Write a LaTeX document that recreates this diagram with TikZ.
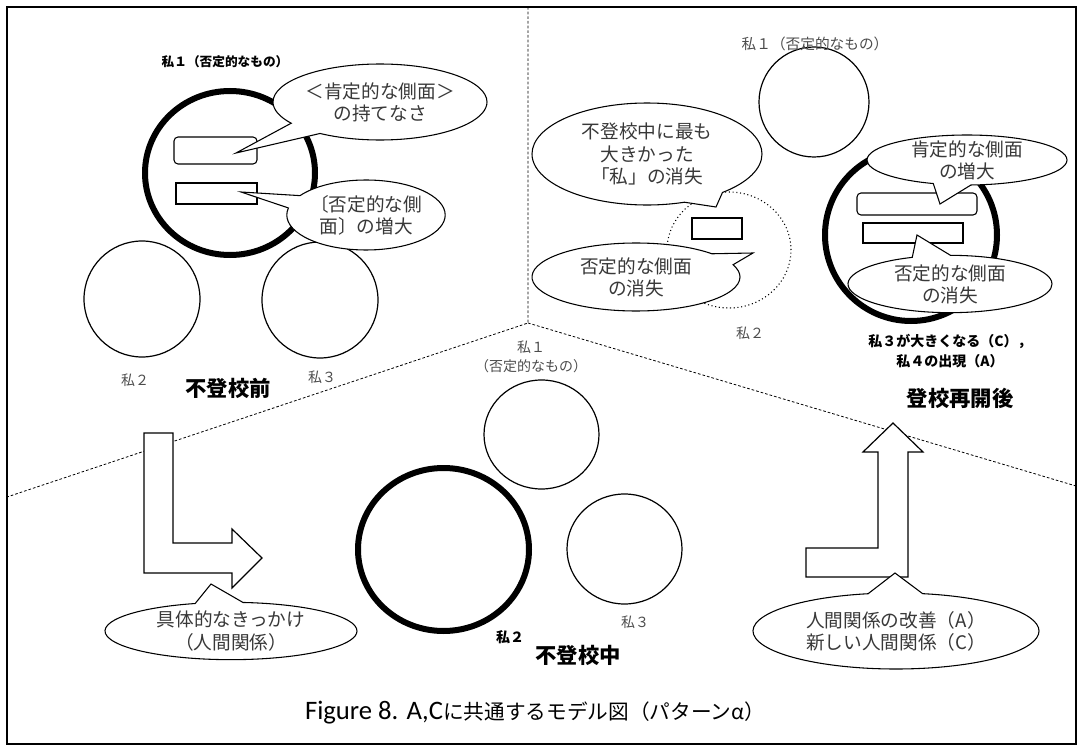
\documentclass[tikz,border=0pt]{standalone}
\usepackage{fontspec}
\setmainfont{Carlito}
\newfontfamily\jp{Noto Sans CJK JP}
\usetikzlibrary{shapes.geometric, shapes.callouts}
\definecolor{labelgray}{gray}{0.3}
\definecolor{bubgray}{gray}{0.22}
\newcommand\bubtext[1]{\smash{\raisebox{-0.4em}{\begin{tabular}{@{}c@{}}#1\end{tabular}}}}

\begin{document}
\begin{tikzpicture}[x=0.75pt, y=-0.75pt,
	thincirc/.style={draw, ellipse, line width=0.9pt, inner sep=0pt},
	thickcirc/.style={draw, ellipse, line width=4.5pt, inner sep=0pt},
	sidebox/.style={draw, rectangle, line width=0.8pt, inner sep=0pt},
	bubble/.style={draw, fill=white, ellipse callout, callout pointer arc=22,
		inner sep=0pt, line width=0.8pt, text=bubgray,
		font=\jp\fontsize{14}{16.5}\selectfont},
	smalllabel/.style={text=labelgray, inner sep=0pt, align=center,
		font=\jp\fontsize{10.5}{14}\selectfont},
	boldlabel/.style={inner sep=0pt, align=center,
		font=\jp\bfseries\fontsize{10.5}{15}\selectfont},
	titlelabel/.style={inner sep=0pt, font=\jp\bfseries\fontsize{16}{19}\selectfont},
	divider/.style={line width=0.6pt, dash pattern=on 2pt off 1.5pt},
	turnarrow/.style={draw, fill=white, line width=0.9pt}]

	\useasboundingbox (0,0) rectangle (1083,749);
	\draw[line width=1.1pt] (7,7) rectangle (1076,744);

	\coordinate (hub)      at (528,323);
	\coordinate (topend)   at (528,7);
	\coordinate (leftend)  at (7,497);
	\coordinate (rightend) at (1076,486);
	\draw[divider] (topend) -- (hub) -- (leftend);
	\draw[divider] (hub) -- (rightend);

	% before
	\node[thickcirc, minimum width=127.5pt, minimum height=123pt] (before1) at (230,173) {};
	\node[thincirc, minimum size=87pt] (before2) at (142,299) {};
	\node[thincirc, minimum size=87pt] (before3) at (320,300) {};
	\node[sidebox, rounded corners=3pt, minimum width=62.25pt, minimum height=20.25pt]
		(beforepos) at (215.5,150.5) {};
	\node[sidebox, minimum width=60.75pt, minimum height=15.75pt]
		(beforeneg) at (216.5,193.5) {};
	\coordinate (tipA) at (236,153);
	\coordinate (tipB) at (241,192);
	\node[bubble, minimum width=160.5pt, minimum height=57pt, callout absolute pointer=(tipA)]
		(calloutA) at (380,102) {\bubtext{＜肯定的な側面＞\\の持てなさ}};
	\node[bubble, minimum width=118.5pt, minimum height=52.5pt, callout absolute pointer=(tipB)]
		(calloutB) at (366,215) {\bubtext{〔否定的な側\\面〕の増大}};
	\node[boldlabel, font=\jp\bfseries\fontsize{9.5}{12}\selectfont] (beforetop) at (225,62)
		{私１（否定的なもの）};
	\node[smalllabel] (beforelab2) at (135,380) {私２};
	\node[smalllabel] (beforelab3) at (322,377) {私３};
	\node[titlelabel] (beforetitle) at (228,388) {不登校前};

	% after
	\node[thincirc, minimum size=82.5pt] (after1) at (814,102) {};
	\node[draw, ellipse, dotted, line width=0.8pt, minimum width=93pt, minimum height=87pt]
		(after2) at (729,250) {};
	\node[sidebox, minimum width=37.5pt, minimum height=15.75pt] (aftergone) at (717,228.5) {};
	\node[thickcirc, minimum size=129pt] (after3) at (911,235) {};
	\node[sidebox, rounded corners=3pt, minimum width=90pt, minimum height=16.5pt]
		(afterpos) at (917,204) {};
	\node[sidebox, minimum width=75pt, minimum height=15pt] (afterneg) at (913,233) {};
	\coordinate (tipC) at (716,207);
	\coordinate (tipD) at (753,253);
	\coordinate (tipE) at (940,204);
	\coordinate (tipF) at (917,235);
	\node[bubble, minimum width=172.5pt, minimum height=76.5pt, callout absolute pointer=(tipC)]
		(calloutC) at (647,154) {\bubtext{不登校中に最も\\大きかった\\「私」の消失}};
	\node[bubble, minimum width=156pt, minimum height=51pt, callout absolute pointer=(tipD)]
		(calloutD) at (636,277) {\bubtext{否定的な側面\\の消失}};
	\node[bubble, minimum width=150pt, minimum height=37.5pt, callout absolute pointer=(tipE)]
		(calloutE) at (967,160) {\bubtext{肯定的な側面\\の増大}};
	\node[bubble, minimum width=153pt, minimum height=43pt, callout absolute pointer=(tipF)]
		(calloutF) at (950,284) {\bubtext{否定的な側面\\の消失}};
	\node[smalllabel, font=\jp\fontsize{11}{14}\selectfont] (aftertop) at (815,44) {私１（否定的なもの）};
	\node[smalllabel] (afterlab2) at (750,333) {私２};
	\node[boldlabel] (afterlab3) at (950,351) {私３が大きくなる（C），\\私４の出現（A）};
	\node[titlelabel] (aftertitle) at (960,398) {登校再開後};

	% during
	\node[thincirc, minimum width=86.25pt, minimum height=81.75pt] (during1) at (541.5,434.5) {};
	\node[thickcirc, minimum width=128.25pt, minimum height=122.25pt] (during2) at (443.5,549.5) {};
	\node[thincirc, minimum width=86.25pt, minimum height=82.5pt] (during3) at (624.5,549) {};
	\node[smalllabel] (duringlab1) at (531,357) {私１\\（否定的なもの）};
	\node[smalllabel] (duringlab3) at (635,622) {私３};
	\node[boldlabel] (duringlab2) at (510,637) {私２};
	\node[titlelabel] (duringtitle) at (578,655) {不登校中};

	% turns
	\draw[turnarrow] (144,433) -- (173,433) -- (173,543) -- (232,543) -- (232,529)
		-- (262,558) -- (232,588) -- (232,573) -- (144,573) -- cycle;
	\draw[turnarrow] (893,423) -- (923,452) -- (908,452) -- (908,577) -- (806,577)
		-- (806,548) -- (878,548) -- (878,452) -- (863,452) -- cycle;
	\coordinate (tipG) at (211,584);
	\coordinate (tipH) at (895,573);
	\node[bubble, minimum width=189pt, minimum height=43pt, callout absolute pointer=(tipG)]
		(calloutG) at (231,631) {\bubtext{具体的なきっかけ\\（人間関係）}};
	\node[bubble, minimum width=214.5pt, minimum height=57pt, callout absolute pointer=(tipH)]
		(calloutH) at (896,631) {\bubtext{人間関係の改善（A）\\新しい人間関係（C）}};

	\node[inner sep=0pt, font=\fontsize{20}{22}\selectfont] (caption) at (535,713)
		{Figure 8. A,C{\jp\fontsize{15.5}{18}\selectfont に共通するモデル図（パターンα）}};
\end{tikzpicture}
\end{document}
